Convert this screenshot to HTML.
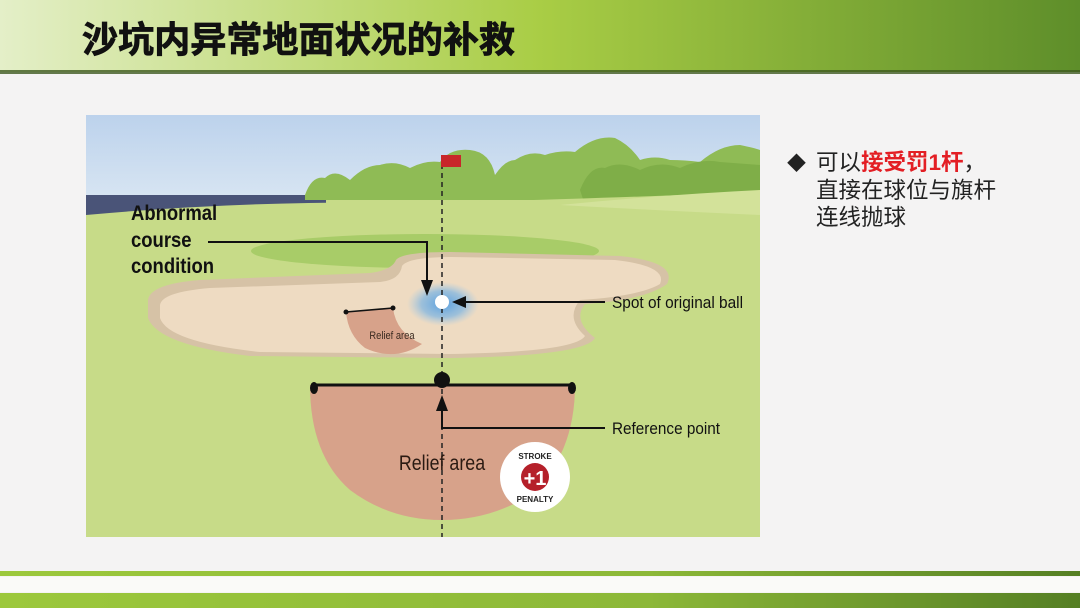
<!DOCTYPE html>
<html><head><meta charset="utf-8"><style>
html,body{margin:0;padding:0;width:1080px;height:608px;overflow:hidden;background:#f4f3f3}
</style></head><body>
<svg width="1080" height="608" viewBox="0 0 1080 608" xmlns="http://www.w3.org/2000/svg" font-family="Liberation Sans, sans-serif">
<defs>
<linearGradient id="hdr" x1="0" x2="1" y1="0" y2="0">
<stop offset="0" stop-color="#e4efc8"/><stop offset="0.5" stop-color="#a9cd45"/><stop offset="1" stop-color="#5e8e2a"/>
</linearGradient>
<linearGradient id="ftr" x1="0" x2="1"><stop offset="0" stop-color="#9cc83c"/><stop offset="0.6" stop-color="#8cb838"/><stop offset="1" stop-color="#557f24"/></linearGradient>
<radialGradient id="glow"><stop offset="0" stop-color="#5aa0e0"/><stop offset="0.6" stop-color="#7ab4e4" stop-opacity="0.7"/><stop offset="1" stop-color="#9cc8ea" stop-opacity="0"/></radialGradient>
<linearGradient id="sky" x1="0" y1="0" x2="0" y2="1"><stop offset="0" stop-color="#bcd2ec"/><stop offset="1" stop-color="#d6e4f2"/></linearGradient>
</defs>
<rect x="0" y="0" width="1080" height="72" fill="url(#hdr)"/>
<rect x="0" y="70" width="1080" height="4" fill="#3e5a20" opacity="0.8"/>
<text x="82" y="52" font-size="36" font-weight="bold" fill="#111" stroke="#111" stroke-width="0.8" font-family="Liberation Sans, Noto Sans CJK SC, sans-serif" textLength="433" lengthAdjust="spacingAndGlyphs">沙坑内异常地面状况的补救</text>

<rect x="0" y="571" width="1080" height="5" fill="url(#ftr)"/>
<rect x="0" y="577" width="1080" height="15" fill="#fafaf8"/>
<rect x="0" y="593" width="1080" height="15" fill="url(#ftr)"/>

<svg x="86" y="115" width="674" height="422" viewBox="86 115 674 422">
<rect x="86" y="115" width="674" height="422" fill="#c7db88"/>
<rect x="86" y="115" width="674" height="80" fill="url(#sky)"/>
<rect x="86" y="195" width="240" height="22" fill="#4a5478"/>
<path d="M305,195 Q312,175 325,178 Q335,168 350,180 Q365,165 380,165 Q395,160 410,168 Q425,160 440,162 Q450,148 470,150 Q490,152 495,175 Q505,160 515,160 Q530,150 545,155 Q560,150 575,152 Q595,135 615,138 Q630,145 640,160 Q655,155 670,160 Q685,160 700,162 Q720,145 740,145 Q755,148 760,150 L760,200 L305,200 Z" fill="#8fbb55"/>
<path d="M580,190 Q590,165 605,168 Q620,160 640,170 Q660,160 680,168 Q700,158 720,162 L760,165 L760,200 L585,205 Z" fill="#7fae48"/>
<path d="M86,215 Q250,200 420,203 Q560,200 760,192 L760,230 L86,235 Z" fill="#c7db88"/>
<path d="M560,205 Q660,195 760,190 L760,215 Q650,210 560,205 Z" fill="#d3e29a"/>
<ellipse cx="425" cy="251" rx="174" ry="17" fill="#a8cc68"/>
<path d="M148,300 Q150,284 200,280 L370,273 Q392,270 396,260 Q402,252 450,252 L620,256 Q678,262 667,284 Q645,300 585,304 Q572,320 595,338 Q585,356 450,358 L250,356 Q158,345 148,318 Z" fill="#d6c2a6"/>
<path d="M160,305 Q162,292 210,288 L380,282 Q400,280 402,266 Q408,257 452,257 L615,260 Q668,266 660,284 Q640,296 580,300 Q565,318 585,336 Q575,352 450,354 L260,352 Q168,342 160,318 Z" fill="#eedbc2"/>
<path d="M346,312 L393,308 Q396,333 422,344 Q395,362 365,348 Q348,335 346,312 Z" fill="#d7a28a"/>
<path d="M346,312 L393,308" stroke="#111" stroke-width="1.6"/>
<circle cx="346" cy="312" r="2.5" fill="#111"/><circle cx="393" cy="308" r="2.5" fill="#111"/>
<text x="392" y="339" font-size="11" fill="#3a2a20" text-anchor="middle" transform="translate(392 339) scale(0.85 1) translate(-392 -339)">Relief area</text>
<ellipse cx="443" cy="304" rx="36" ry="22" fill="url(#glow)"/>
<path d="M310,385 L575,385 Q575,455 530,495 Q490,520 442,520 Q390,520 350,490 Q310,455 310,385 Z" fill="#d7a28a"/>
<line x1="442" y1="155" x2="442" y2="537" stroke="#222" stroke-width="1.5" stroke-dasharray="5,4"/>
<rect x="441" y="155" width="20" height="12" fill="#c8262a"/>
<circle cx="442" cy="302" r="7" fill="#fff"/>
<path d="M312,385 L573,385" stroke="#111" stroke-width="3"/>
<ellipse cx="314" cy="388" rx="4" ry="6" fill="#111"/><ellipse cx="572" cy="388" rx="4" ry="6" fill="#111"/>
<circle cx="442" cy="380" r="8" fill="#111"/>
<path d="M208,242 L427,242 L427,286" fill="none" stroke="#111" stroke-width="2"/>
<path d="M421,280 L427,296 L433,280 Z" fill="#111"/>
<path d="M605,302 L462,302" stroke="#111" stroke-width="2"/>
<path d="M466,296 L452,302 L466,308 Z" fill="#111"/>
<path d="M605,428 L442,428 L442,405" fill="none" stroke="#111" stroke-width="2"/>
<path d="M436,411 L442,395 L448,411 Z" fill="#111"/>
<g font-weight="bold" font-size="21" fill="#111" transform="translate(131 0) scale(0.88 1) translate(-131 0)">
<text x="131" y="220">Abnormal</text><text x="131" y="247">course</text><text x="131" y="273">condition</text></g>
<text x="612" y="308" font-size="17" fill="#111" textLength="131" lengthAdjust="spacingAndGlyphs">Spot of original ball</text>
<text x="612" y="434" font-size="17" fill="#111" textLength="108" lengthAdjust="spacingAndGlyphs">Reference point</text>
<text x="442" y="470" font-size="21" fill="#2a1a12" text-anchor="middle" transform="translate(442 0) scale(0.85 1) translate(-442 0)">Relief area</text>
<circle cx="535" cy="477" r="35" fill="#fff"/>
<circle cx="535" cy="477" r="14" fill="#b5202a"/>
<text x="535" y="485" font-size="20" font-weight="bold" fill="#fff" text-anchor="middle">+1</text>
<text x="535" y="459" font-size="8" font-weight="bold" fill="#222" text-anchor="middle">STROKE</text>
<text x="535" y="502" font-size="8" font-weight="bold" fill="#222" text-anchor="middle">PENALTY</text>
</svg>

<g font-family="Liberation Sans, Noto Sans CJK SC, sans-serif" font-size="22.5" fill="#222">
<text x="787" y="170" font-size="19">◆</text>
<text x="816" y="170">可以<tspan fill="#e31e24" font-weight="bold">接受罚1杆</tspan>，</text>
<text x="816" y="198">直接在球位与旗杆</text>
<text x="816" y="225">连线抛球</text>
</g>
</svg>
</body></html>
